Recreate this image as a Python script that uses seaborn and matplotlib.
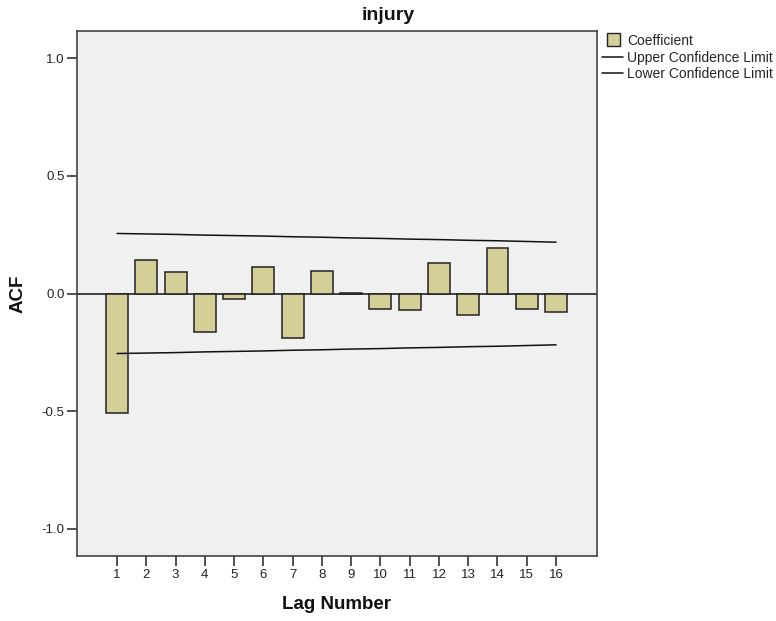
import matplotlib
matplotlib.use("Agg")
import matplotlib.pyplot as plt
import seaborn as sns
import pandas as pd
from matplotlib.patches import Rectangle
from matplotlib.lines import Line2D
from matplotlib.legend_handler import HandlerPatch

# ---- data ----
lags = [1, 2, 3, 4, 5, 6, 7, 8, 9, 10, 11, 12, 13, 14, 15, 16]
acf = [-0.507, 0.144, 0.091, -0.163, -0.024, 0.113, -0.191, 0.096, 0.004,
       -0.064, -0.068, 0.130, -0.092, 0.195, -0.064, -0.078]
upper = [0.255, 0.253, 0.251, 0.248, 0.246, 0.244, 0.241, 0.239, 0.236,
         0.234, 0.231, 0.229, 0.226, 0.224, 0.221, 0.218]
lower = [-0.255, -0.253, -0.251, -0.248, -0.246, -0.244, -0.241, -0.239, -0.236,
         -0.234, -0.231, -0.229, -0.226, -0.224, -0.221, -0.218]
yticks = [-1.0, -0.5, 0.0, 0.5, 1.0]
title = "injury"
xlabel = "Lag Number"
ylabel = "ACF"
legend_labels = ["Coefficient", "Upper Confidence Limit", "Lower Confidence Limit"]

df = pd.DataFrame({"lag": lags, "acf": acf, "upper": upper, "lower": lower})

sns.set_theme(style="white")
plt.rcParams["font.family"] = ["Liberation Sans", "DejaVu Sans"]
plt.rcParams["axes.unicode_minus"] = False

BAR = "#d3cf97"
fig = plt.figure(figsize=(7.76, 6.21), dpi=100)
fig.patch.set_facecolor("white")
ax = fig.add_axes([77/776, 1 - 556/621, (597-77)/776, (556-31)/621])
ax.set_facecolor("#f0f0f0")

sns.barplot(data=df, x="lag", y="acf", native_scale=True, color=BAR, saturation=1,
            width=0.75, edgecolor="#222222", linewidth=1.1, ax=ax, zorder=3)
ax.axhline(0, color="#111111", lw=1.1, zorder=2)
sns.lineplot(data=df, x="lag", y="upper", color="#111111", lw=1.1, ax=ax, zorder=4)
sns.lineplot(data=df, x="lag", y="lower", color="#111111", lw=1.1, ax=ax, zorder=4)

ax.set_xlim(-0.367, 17.40)
ax.set_ylim(-1.115, 1.115)
ax.set_xticks(lags)
ax.set_xticklabels([str(l) for l in lags])
ax.set_yticks(yticks)
ax.set_yticklabels([f"{v:.1f}" for v in yticks])
ax.tick_params(axis="both", direction="out", length=7, width=1.2, color="#333333",
               labelsize=9.5, labelcolor="#222222", pad=2,
               bottom=True, left=True)
for s in ax.spines.values():
    s.set_color("#444444")
    s.set_linewidth(1.2)

ax.set_xlabel(xlabel, fontsize=13.5, fontweight="bold", color="#111111")
ax.set_ylabel(ylabel, fontsize=13.5, fontweight="bold", color="#111111")
ax.xaxis.set_label_coords(0.5, -(596 - 556) / 525)
ax.yaxis.set_label_coords(-(77 - 27) / 520, 0.5)

fig.text(0.5, 1 - 16/621, title, ha="center", va="center", fontsize=14,
         fontweight="bold", color="#111111")

def square(legend, orig_handle, xdescent, ydescent, width, height, fontsize):
    s = height * 1.35
    return Rectangle((width * 0.25 - xdescent, (height - s) / 2 - ydescent), s, s)

handles = [Rectangle((0, 0), 1, 1, facecolor=BAR, edgecolor="#222222", lw=1.0),
           Line2D([], [], color="#111111", lw=1.1),
           Line2D([], [], color="#111111", lw=1.1)]
leg = fig.legend(handles, legend_labels, loc="upper left",
                 bbox_to_anchor=(599/776, 1 - 31/621), frameon=False,
                 fontsize=10, handlelength=1.5, handletextpad=0.35,
                 labelspacing=0.2, borderaxespad=0, borderpad=0.2,
                 handler_map={Rectangle: HandlerPatch(patch_func=square)})

fig.savefig("out.png", dpi=100, facecolor="white")
